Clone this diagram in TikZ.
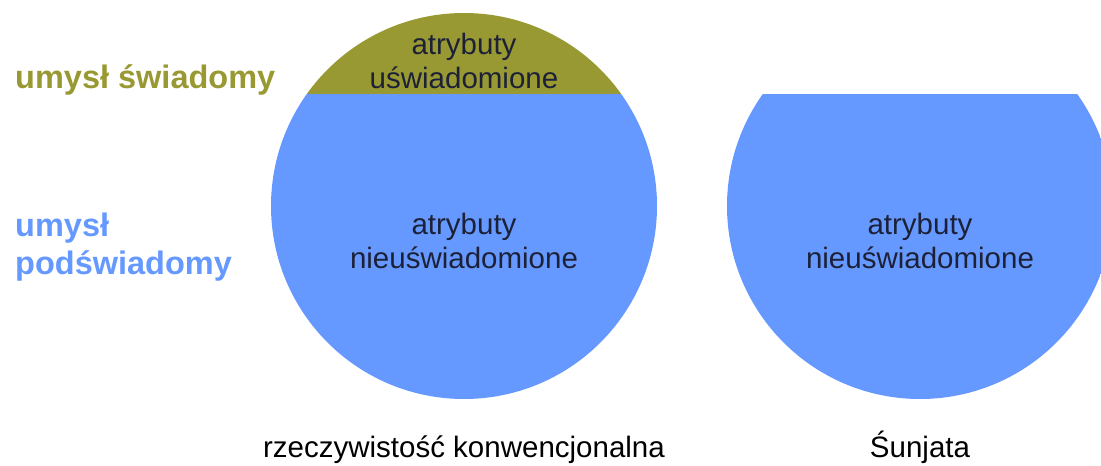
\documentclass[tikz,border=0pt]{standalone}
\usepackage{fontspec}
\setmainfont{Liberation Sans}

\definecolor{swiad}{HTML}{999933}
\definecolor{podsw}{HTML}{6699FF}
\definecolor{napis}{HTML}{1C2138}

\tikzset{
  attr/.style={inner sep=0pt, align=center, text=napis,
    font=\fontsize{29.5}{33.5}\selectfont},
  mind/.style={inner sep=0pt, align=left,
    font=\bfseries\fontsize{32.5}{37.5}\selectfont},
  caption/.style={inner sep=0pt, anchor=base, text=black,
    font=\fontsize{29.5}{33.5}\selectfont}
}

\begin{document}
\begin{tikzpicture}[x=1pt, y=-1pt]
  % Frame
  \useasboundingbox (0,0) rectangle (1101,466);
  \clip (0,0) rectangle (1101,466);

  % Conventional reality: conscious cap over subconscious body
  \begin{scope}
    \clip (464,206) circle (193pt);
    \fill[swiad] (260,0) rectangle (670,94);
    \fill[podsw] (260,94) rectangle (670,410);
  \end{scope}

  % Sunyata: only the subconscious part
  \begin{scope}
    \clip (920,206) circle (193pt);
    \fill[podsw] (715,94) rectangle (1125,410);
  \end{scope}

  % Circle labels
  \node[attr] (capL) at (464,61) {atrybuty\\uświadomione};
  \node[attr] (bodyL) at (464,241) {atrybuty\\nieuświadomione};
  \node[attr] (bodyR) at (920,241) {atrybuty\\nieuświadomione};

  % Side labels
  \node[mind, text=swiad, anchor=base west] (consc) at (15,88) {umysł świadomy};
  \node[mind, text=podsw, anchor=west] (subc) at (15,247) {umysł\\podświadomy};

  % Captions
  \node[caption] (conv) at (464,457) {rzeczywistość konwencjonalna};
  \node[caption] (sun) at (920,457) {Śunjata};
\end{tikzpicture}
\end{document}
